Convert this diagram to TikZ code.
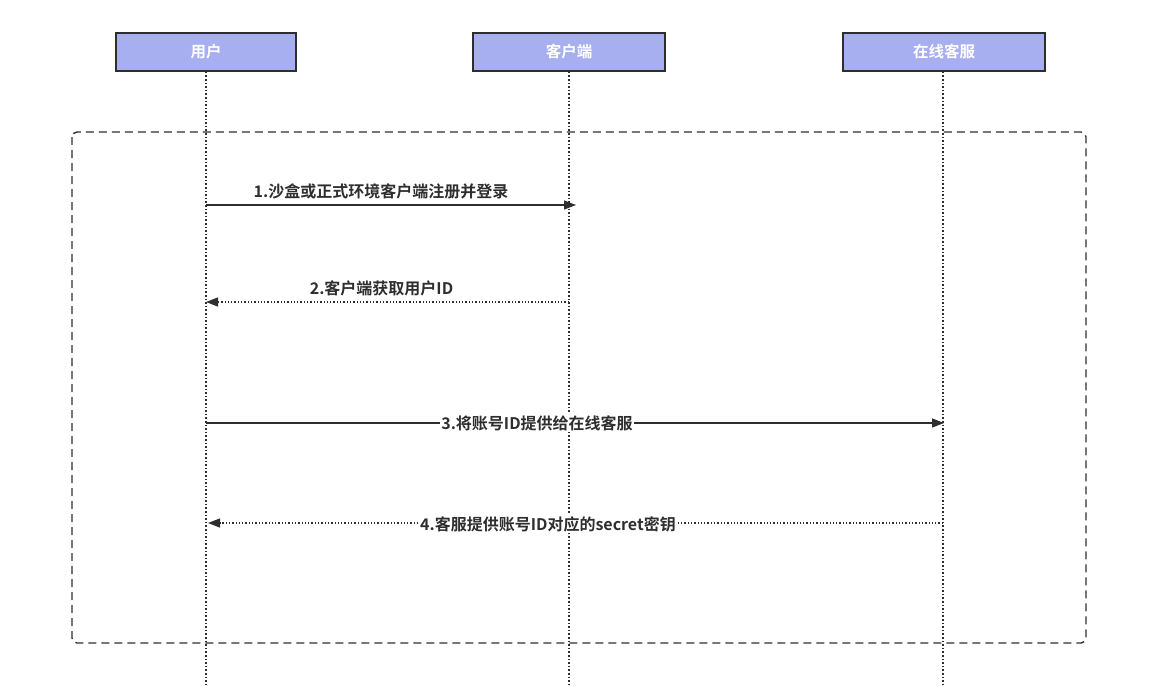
\documentclass[tikz,border=0pt]{standalone}
\usepackage{fontspec}
\setmainfont{Noto Sans CJK SC}
\newfontfamily\cjkb{Noto Sans CJK SC Bold}
\usetikzlibrary{arrows.meta}
\definecolor{boxfill}{HTML}{A8AFF0}
\definecolor{ink}{HTML}{2E2E2E}
\tikzset{
  actor/.style={draw=ink, line width=1.4pt, fill=boxfill, minimum height=38pt, inner sep=0pt, text=white, font=\cjkb\fontsize{15.5}{18}\selectfont},
  life/.style={draw=ink, line width=1.6pt, dotted},
  msg/.style={draw=ink, line width=1.3pt, -{Triangle[length=12pt,width=9pt]}},
  reply/.style={draw=ink, line width=1.3pt, dotted, -{Triangle[length=12pt,width=9pt]}},
  lbl/.style={text=ink, font=\cjkb\fontsize{16}{18}\selectfont, inner sep=1pt},
  frame/.style={draw=ink, line width=1.4pt, dash pattern=on 8pt off 5pt, rounded corners=5pt}
}
\begin{document}
\begin{tikzpicture}[x=1pt,y=-1pt]
\useasboundingbox (0,0) rectangle (1150,685);
\node[actor, minimum width=180pt] (u) at (206,52) {用户};
\node[actor, minimum width=192pt] (c) at (569,52) {客户端};
\node[actor, minimum width=202pt] (s) at (944,52) {在线客服};
\coordinate (ue) at (206,685);
\coordinate (ce) at (569,685);
\coordinate (se) at (943,685);
\draw[frame] (72,132) rectangle (1086,643);
\draw[life] (u.south) -- (ue);
\draw[life] (c.south) -- (ce);
\draw[life] (s.south -| se) -- (se);
% messages
\coordinate (m1a) at (206,205);
\coordinate (m1b) at (576,205);
\draw[msg] (m1a) -- node[lbl, above=4pt, xshift=-10pt] {1.沙盒或正式环境客户端注册并登录} (m1b);
\coordinate (m2a) at (569,302);
\coordinate (m2b) at (206,302);
\draw[reply] (m2a) -- node[lbl, above=4pt, xshift=-6pt] {2.客户端获取用户ID} (m2b);
\coordinate (m3a) at (206,423);
\coordinate (m3b) at (944,423);
\draw[msg] (m3a) -- (m3b);
\node[lbl, fill=white] (l3) at (537,423) {3.将账号ID提供给在线客服};
\coordinate (m4a) at (943,523);
\coordinate (m4b) at (208,523);
\draw[reply] (m4a) -- (m4b);
\node[lbl, fill=white] (l4) at (548,524) {4.客服提供账号ID对应的secret密钥};
\end{tikzpicture}
\end{document}
